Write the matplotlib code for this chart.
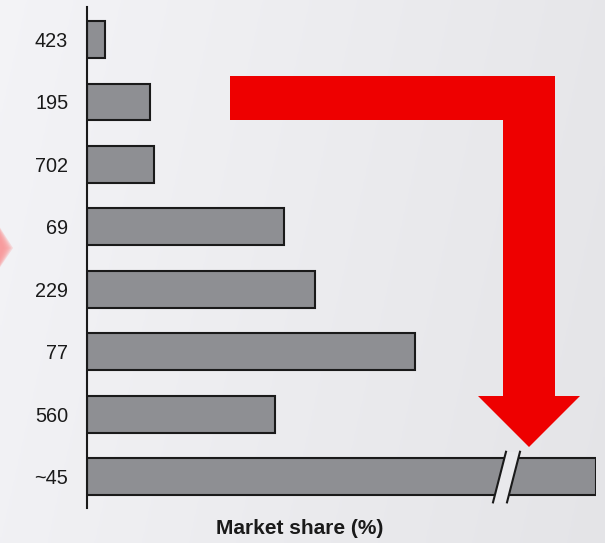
import numpy as np
import matplotlib
matplotlib.use('Agg')
import matplotlib.pyplot as plt
from matplotlib.patches import Polygon

plt.rcParams['font.family'] = ['Liberation Sans', 'DejaVu Sans']

# category labels (top to bottom) and bar lengths as drawn (last bar is truncated by a break)
labels = ['423', '195', '702', '69', '229', '77', '560', '~45']
values = [1.8, 6.3, 6.7, 19.7, 22.8, 32.8, 18.8, 50.9]
x_max = 50.9
break_at = 41.3

W, H = 605, 543
fig = plt.figure(figsize=(W / 100, H / 100), dpi=100)

# light gray gradient background
bg = fig.add_axes([0, 0, 1, 1], zorder=-10)
gx = np.linspace(0, 1, 200)
gy = np.linspace(0, 1, 200)
GX, GY = np.meshgrid(gx, gy)
shade = 0.955 - 0.05 * GX - 0.01 * GY
bg.imshow(np.dstack([shade, shade, shade + 0.012]).clip(0, 1), extent=[0, 1, 0, 1],
          aspect='auto', origin='upper')
bg.axis('off')

ax = fig.add_axes([87 / W, 1 - 508 / H, 509 / W, 501 / H])
ax.patch.set_alpha(0)
y = np.arange(len(labels))
ax.barh(y, values, height=0.59, color='#8e8f93', edgecolor='#1a1a1a', linewidth=1.5, zorder=2)
ax.set_xlim(0, x_max)
ax.set_ylim(7.5, -0.52)
ax.set_yticks(y)
ax.set_yticklabels(labels, fontsize=14.3, color='#1a1a1a')
ax.tick_params(axis='y', length=0, pad=13.5)
ax.set_xticks([])
for s in ['top', 'right', 'bottom']:
    ax.spines[s].set_visible(False)
ax.spines['left'].set_linewidth(1.5)
ax.spines['left'].set_color('#1a1a1a')

# axis break on the last bar
d = 1.3
x1b, x2b = break_at - 0.7, break_at + 0.7
gap = Polygon([(x1b, 7.41), (x1b + d, 6.6), (x2b + d, 6.6), (x2b, 7.41)],
              closed=True, facecolor='#e9e9ec', edgecolor='none', zorder=3, clip_on=False)
ax.add_patch(gap)
ax.plot([x1b, x1b + d], [7.41, 6.6], color='#1a1a1a', lw=1.5, zorder=4, clip_on=False)
ax.plot([x2b, x2b + d], [7.41, 6.6], color='#1a1a1a', lw=1.5, zorder=4, clip_on=False)

fig.text(300 / W, 1 - 529 / H, 'Market share (%)', ha='center', va='center',
         fontsize=15, fontweight='bold', color='#1a1a1a')

# overlay for decorations in pixel coordinates
ov = fig.add_axes([0, 0, 1, 1], zorder=10)
ov.set_xlim(0, W)
ov.set_ylim(H, 0)
ov.axis('off')
ov.patch.set_alpha(0)

arrow = [(230, 76), (555, 76), (555, 396), (580, 396), (529, 447),
         (478, 396), (503, 396), (503, 120), (230, 120)]
ov.add_patch(Polygon(arrow, closed=True, facecolor='#ee0000', edgecolor='none'))

# faded chevron at the left edge
for i, a in enumerate(np.linspace(0.55, 0.05, 8)):
    off = i * 1.5
    chev = [(-10, 212), (13 - off, 248), (-10, 282)]
    ov.add_patch(Polygon(chev, closed=True, facecolor='#ff6666', alpha=a * 0.35,
                         edgecolor='none'))

fig.savefig('out.png', dpi=100)
